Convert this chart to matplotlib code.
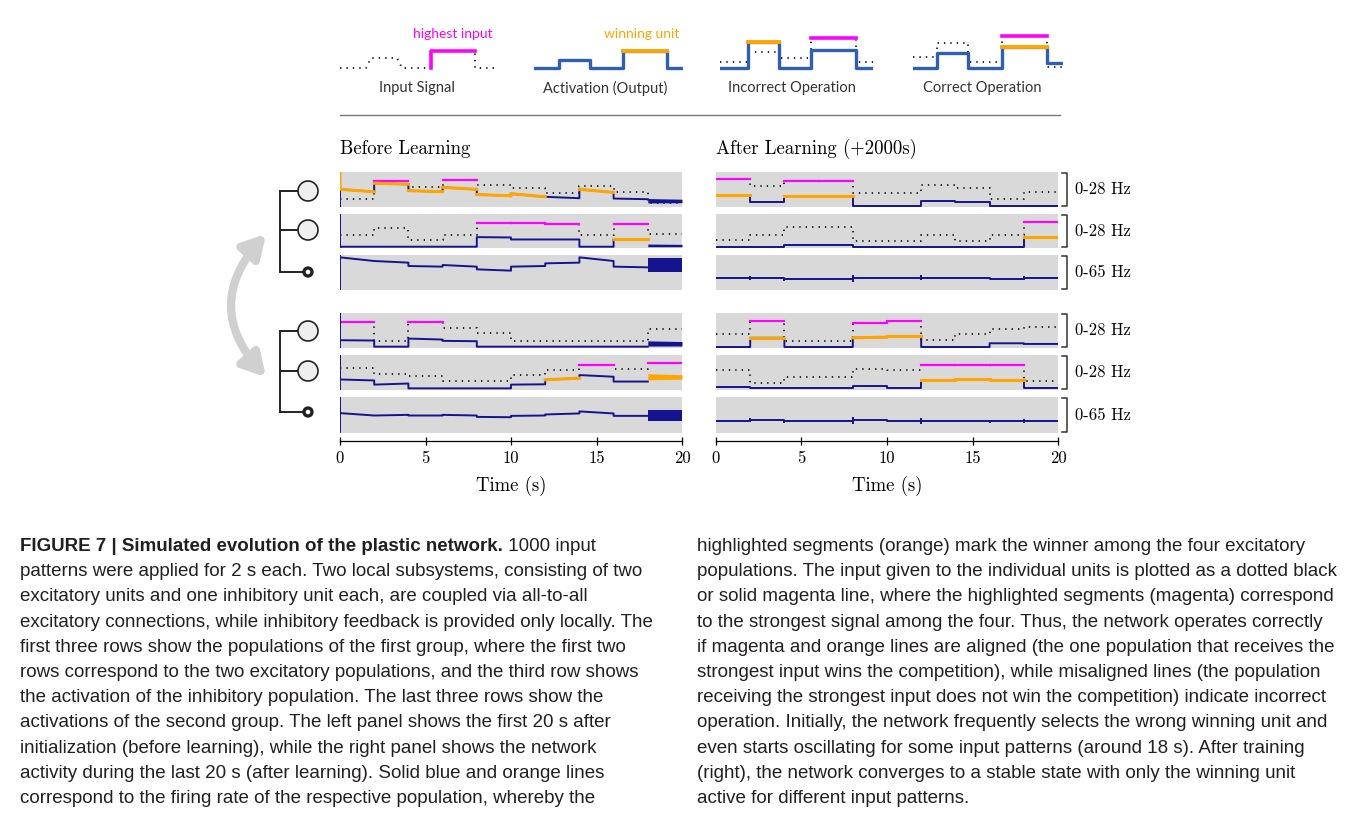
import numpy as np
import matplotlib
matplotlib.use("Agg")
import matplotlib.pyplot as plt
from matplotlib import font_manager
from matplotlib.patches import Circle, FancyArrowPatch, ArrowStyle

W, H = 1355, 814


def have_font(name):
    try:
        font_manager.findfont(font_manager.FontProperties(family=name),
                              fallback_to_default=False)
        return True
    except ValueError:
        return False


SERIF = ['cmr10', 'DejaVu Serif']
SANS = 'Lato'
CAPTION = 'Liberation Sans Narrow' if have_font('Liberation Sans Narrow') else 'Liberation Sans'

NAVY = '#14148f'
ORANGE = '#ffa500'
MAGENTA = '#ff00ff'
DOTS = '#222222'
PANEL_BG = '#d9d9d9'

# ---- data: 10 input patterns of 2 s each, rates in Hz ----
edges = np.arange(0, 22, 2)

# before learning: inputs of the four excitatory units (rows 1, 2, 4, 5)
pre_input = [
    [6.5, 22.9, 17.0, 23.3, 19.2, 16.7, 11.8, 18.6, 13.0, 3.0],
    [10.9, 18.0, 6.8, 10.9, 22.6, 22.3, 22.0, 10.9, 21.7, 12.7],
    [22.6, 5.6, 22.6, 17.7, 13.0, 5.6, 5.6, 5.6, 5.6, 16.7],
    [18.9, 13.3, 11.5, 7.4, 7.4, 13.0, 17.7, 22.3, 18.0, 23.9],
]
# firing rate at start / end of each pattern (nan = oscillating)
pre_rate_start = [
    [15.2, 20.8, 14.0, 17.0, 10.5, 11.2, 8.4, 15.2, 6.8, np.nan],
    [0.3, 0.3, 0.3, 0.3, 9.3, 7.1, 7.1, 0.3, 7.4, np.nan],
    [6.2, 0.3, 7.7, 5.6, 0.3, 0.3, 0.3, 0.3, 0.3, np.nan],
    [8.7, 4.0, 0.6, 0.6, 0.6, 4.0, 8.4, 12.7, 6.8, np.nan],
]
pre_rate_end = [
    [13.0, 19.8, 13.0, 15.2, 9.3, 8.4, 7.1, 12.4, 6.2, np.nan],
    [0.3, 0.3, 0.3, 0.3, 9.0, 7.1, 7.1, 0.3, 7.4, np.nan],
    [5.9, 0.3, 6.8, 5.3, 0.3, 0.3, 0.3, 0.3, 0.3, np.nan],
    [7.8, 5.0, 0.6, 0.6, 0.6, 4.3, 9.9, 11.2, 6.8, np.nan],
]
pre_onset = [30.0, 30.0, 30.0, 30.0]
# oscillation envelope 18-20 s: (low, high) at 18 s and at 20 s
pre_osc_lo = [[2.8, 3.0], [0.3, 0.3], [0.9, 0.9], [8.4, 9.0]]
pre_osc_hi = [[6.8, 6.2], [2.8, 2.5], [5.6, 5.0], [14.0, 13.0]]

# before learning: inhibitory units (rows 3, 6)
pre_inh_start = [
    [63.3, 56.0, 46.0, 48.0, 39.3, 44.7, 51.3, 63.3, 44.7, np.nan],
    [36.7, 32.0, 32.0, 33.3, 29.3, 31.3, 34.0, 40.0, 31.3, np.nan],
]
pre_inh_end = [
    [56.0, 52.7, 44.7, 44.7, 36.7, 46.0, 52.7, 56.0, 43.3, np.nan],
    [32.0, 33.3, 32.0, 32.0, 28.7, 32.0, 36.0, 36.0, 31.3, np.nan],
]
pre_inh_onset = [66.0, 66.0]
pre_inh_osc_lo = [33.3, 21.3]
pre_inh_osc_hi = [61.3, 43.3]

# after learning (+2000 s)
post_input = [
    [24.8, 18.3, 22.9, 22.9, 11.8, 11.8, 18.9, 16.4, 6.2, 12.4],
    [6.5, 11.5, 18.9, 18.9, 5.6, 5.6, 11.2, 5.6, 11.2, 23.3],
    [11.8, 23.3, 5.6, 5.6, 22.3, 23.3, 6.5, 11.8, 16.4, 18.6],
    [17.4, 5.3, 11.2, 11.2, 18.3, 17.4, 21.7, 21.7, 21.7, 7.1],
]
post_rate_start = [
    [10.2, 3.4, 9.0, 9.0, 0.3, 0.3, 5.0, 3.4, 0.3, 0.3],
    [0.3, 0.3, 2.2, 2.2, 0.3, 0.3, 0.3, 0.3, 0.3, 9.3],
    [0.0, 8.4, 0.0, 0.0, 8.4, 9.6, 0.0, 0.0, 3.4, 2.8],
    [2.2, 0.6, 0.6, 0.6, 2.8, 1.2, 8.4, 9.0, 8.4, 0.6],
]
post_rate_end = [
    [10.2, 3.4, 9.0, 9.0, 0.3, 0.3, 5.0, 3.4, 0.3, 0.3],
    [0.3, 0.3, 2.2, 2.2, 0.3, 0.3, 0.3, 0.3, 0.3, 9.3],
    [0.0, 8.4, 0.0, 0.0, 9.0, 9.6, 0.0, 0.0, 3.4, 2.8],
    [2.2, 0.6, 0.6, 0.6, 2.8, 1.2, 8.4, 9.0, 8.4, 0.6],
]
post_inh = [
    [21.3, 22.7, 20.0, 20.0, 21.3, 21.3, 22.7, 21.3, 20.6, 22.0],
    [22.0, 23.3, 20.6, 20.6, 22.7, 22.0, 21.3, 21.3, 20.6, 22.0],
]
# transient spikes of the inhibitory rate at the switches t = 2..18 s
post_inh_blip = [2.0, 2.0, 0.0, 5.0, 0.0, 3.5, 0.0, 1.2, 2.0]

row_labels = ['0-28 Hz', '0-28 Hz', '0-65 Hz', '0-28 Hz', '0-28 Hz', '0-65 Hz']
time_ticks = [0, 5, 10, 15, 20]

# legend sketches (x in px from the sketch's left edge, y in arbitrary level units)
leg_input_x = [0, 26, 31, 57, 62, 91, 91, 135, 135, 154]
leg_input_y = [4, 4, 14, 14, 4, 4, 21, 21, 4, 4]
leg_act_x = [0, 25, 25, 56, 56, 89, 89, 133, 133, 149]
leg_act_y = [4, 4, 12, 12, 4, 4, 21, 21, 4, 4]
leg_bad_x = [0, 28, 28, 59, 59, 91, 91, 136, 136, 153]
leg_bad_rate = [4, 4, 30, 30, 4, 4, 22, 22, 4, 4]
leg_bad_input = [10, 10, 20, 20, 14, 14, 34, 34, 10, 10]
leg_good_x = [0, 24, 24, 55, 55, 89, 89, 134, 134, 150]
leg_good_rate = [4, 4, 19, 19, 4, 4, 25, 25, 9, 9]
leg_good_input = [15, 15, 29, 29, 10, 10, 36, 36, 5, 5]

fig = plt.figure(figsize=(W / 100, H / 100), dpi=100)

# full-figure overlay in pixel units for text, diagram and arrow
ov = fig.add_axes([0, 0, 1, 1])
ov.set_xlim(0, W)
ov.set_ylim(H, 0)
ov.axis('off')


def px_axes(x0, y0, x1, y1):
    return fig.add_axes([x0 / W, 1 - y1 / H, (x1 - x0) / W, (y1 - y0) / H])


def bare(ax):
    ax.set_xticks([])
    ax.set_yticks([])
    for s in ax.spines.values():
        s.set_visible(False)


rows_y = [(172, 207), (214, 248), (255, 290), (313, 348), (355, 390), (397, 433)]
panels_x = [(340, 682), (716, 1058)]
exc_rows = [0, 1, 3, 4]
inh_rows = [2, 5]
step_t = np.repeat(edges, 2)[1:-1]


def seg_mid(r0, r1, lo, hi):
    m = (np.array(r0) + np.array(r1)) / 2
    if lo is not None:
        m[-1] = (lo[0] + hi[0] + lo[1] + hi[1]) / 4
    return m


def draw_panel(px, inputs, r0s, r1s, onsets, osc_lo, osc_hi, inh0, inh1,
               inh_onset, inh_lo, inh_hi, blips):
    mids = np.array([seg_mid(r0s[i], r1s[i],
                             osc_lo[i] if osc_lo else None,
                             osc_hi[i] if osc_hi else None) for i in range(4)])
    winner = np.argmax(mids, axis=0)
    strongest = np.argmax(np.array(inputs), axis=0)

    for i, row in enumerate(exc_rows):
        ax = px_axes(px[0], rows_y[row][0], px[1], rows_y[row][1])
        ax.set_facecolor(PANEL_BG)
        ax.set_xlim(0, 20)
        ax.set_ylim(-0.9, 31)
        bare(ax)
        inp = np.array(inputs[i])
        ax.plot(step_t, np.repeat(inp, 2), color=DOTS, lw=1.4,
                ls=(0, (0.7, 2.6)), zorder=2)
        for k in np.where(strongest == i)[0]:
            ax.plot(edges[k:k + 2], [inp[k], inp[k]], color=MAGENTA, lw=1.6, zorder=3)

        r0, r1 = np.array(r0s[i]), np.array(r1s[i])
        xs = list(step_t)
        ys = list(np.column_stack([r0, r1]).ravel())
        if onsets:
            xs = [0, 0] + xs
            ys = [0, onsets[i]] + ys
        ax.plot(xs, ys, color=NAVY, lw=1.4, zorder=4)
        for k in np.where(winner == i)[0]:
            if np.isnan(r0[k]):
                continue
            sx, sy = [edges[k], edges[k + 1]], [r0[k], r1[k]]
            if k == 0 and onsets:
                sx, sy = [0] + sx, [onsets[i]] + sy
            ax.plot(sx, sy, color=ORANGE, lw=2.2, zorder=5)
        if osc_lo:
            c = ORANGE if winner[-1] == i else NAVY
            ax.fill_between(edges[-2:], osc_lo[i], osc_hi[i], color=c, lw=0, zorder=5)

    for j, row in enumerate(inh_rows):
        ax = px_axes(px[0], rows_y[row][0], px[1], rows_y[row][1])
        ax.set_facecolor(PANEL_BG)
        ax.set_xlim(0, 20)
        ax.set_ylim(-2, 68)
        bare(ax)
        a0, a1 = np.array(inh0[j]), np.array(inh1[j])
        xs, ys = [], []
        if inh_onset:
            xs, ys = [0, 0], [0, inh_onset[j]]
        for k in range(10):
            if k > 0 and blips and blips[k - 1] > 0:
                xs += [edges[k], edges[k]]
                ys += [a0[k] + blips[k - 1], a0[k] - blips[k - 1]]
            xs += [edges[k], edges[k + 1]]
            ys += [a0[k], a1[k]]
        ax.plot(xs, ys, color=NAVY, lw=1.4, zorder=4)
        if inh_lo:
            ax.fill_between(edges[-2:], inh_lo[j], inh_hi[j], color=NAVY, lw=0)

    # time axis
    tax = px_axes(px[0], 430, px[1], 441)
    tax.patch.set_alpha(0)
    tax.set_xlim(0, 20)
    tax.set_yticks([])
    for s in ['left', 'right', 'top']:
        tax.spines[s].set_visible(False)
    tax.spines['bottom'].set_linewidth(0.9)
    tax.set_xticks(time_ticks)
    tax.set_xticklabels([str(t) for t in time_ticks], family=SERIF, fontsize=12)
    tax.tick_params(axis='x', direction='inout', length=6, width=0.9, pad=4)
    ov.text((px[0] + px[1]) / 2, 486, 'Time (s)', family=SERIF, fontsize=13.5,
            ha='center', va='center')


draw_panel(panels_x[0], pre_input, pre_rate_start, pre_rate_end, pre_onset,
           pre_osc_lo, pre_osc_hi, pre_inh_start, pre_inh_end, pre_inh_onset,
           pre_inh_osc_lo, pre_inh_osc_hi, None)
draw_panel(panels_x[1], post_input, post_rate_start, post_rate_end, None,
           None, None, post_inh, post_inh, None, None, None, post_inh_blip)

ov.text(340, 149, 'Before Learning', family=SERIF, fontsize=13.5, ha='left', va='center')
ov.text(716, 149, 'After Learning (+2000s)', family=SERIF, fontsize=13.5,
        ha='left', va='center')

# range brackets on the right
for (y0, y1), lab in zip(rows_y, row_labels):
    ov.plot([1062, 1067, 1067, 1062], [y0 + 1, y0 + 1, y1 - 1, y1 - 1],
            color='#333333', lw=1.1)
    ov.text(1075, (y0 + y1) / 2, lab, family=SERIF, fontsize=12, ha='left', va='center')

# network sketch: two groups of two excitatory + one inhibitory unit
for cy in [(191, 230, 272), (331, 371, 412)]:
    ov.plot([280, 280], [cy[0], cy[2]], color='#222222', lw=1.4, zorder=2)
    for k, y in enumerate(cy):
        r = 10 if k < 2 else 4
        ov.plot([280, 308 - r], [y, y], color='#222222', lw=1.4, zorder=2)
        ov.add_patch(Circle((308, y), r, facecolor='#efefef' if k < 2 else 'white',
                            edgecolor='#222222', lw=1.2 if k < 2 else 2.4, zorder=3))

arrow = FancyArrowPatch((266, 234), (266, 377), connectionstyle='arc3,rad=0.45',
                        arrowstyle=ArrowStyle('<|-|>', head_length=0.6, head_width=0.34),
                        mutation_scale=22, lw=6, color='#d0d0d0', shrinkA=0, shrinkB=0,
                        zorder=1)
ov.add_patch(arrow)

# legend sketches along the top
def legend_axes(x0, width):
    ax = px_axes(x0, 32, x0 + width, 72)
    ax.set_xlim(0, width)
    ax.set_ylim(0, 40)
    ax.axis('off')
    return ax


BLUE_LEG = '#2e5fb4'
la = legend_axes(340, 154)
la.plot(leg_input_x, leg_input_y, color=DOTS, lw=1.4, ls=(0, (0.7, 2.6)))
la.plot(leg_input_x[5:8], leg_input_y[5:8], color=MAGENTA, lw=2.6)
lb = legend_axes(534, 149)
lb.plot(leg_act_x, leg_act_y, color=BLUE_LEG, lw=2.4)
lb.plot(leg_act_x[6:8], leg_act_y[6:8], color=ORANGE, lw=2.8)
lc = legend_axes(720, 153)
lc.plot(leg_bad_x, leg_bad_input, color=DOTS, lw=1.4, ls=(0, (0.7, 2.6)))
lc.plot(leg_bad_x[6:8], leg_bad_input[6:8], color=MAGENTA, lw=2.6)
lc.plot(leg_bad_x, leg_bad_rate, color=BLUE_LEG, lw=2.4)
lc.plot(leg_bad_x[2:4], leg_bad_rate[2:4], color=ORANGE, lw=2.8)
ld = legend_axes(913, 150)
ld.plot(leg_good_x, leg_good_input, color=DOTS, lw=1.4, ls=(0, (0.7, 2.6)))
ld.plot(leg_good_x[6:8], leg_good_input[6:8], color=MAGENTA, lw=2.6)
ld.plot(leg_good_x, leg_good_rate, color=BLUE_LEG, lw=2.4)
ld.plot(leg_good_x[6:8], leg_good_rate[6:8], color=ORANGE, lw=2.8)

ov.text(453, 34, 'highest input', family=SANS, fontsize=10, color=MAGENTA,
        ha='center', va='center')
ov.text(642, 34, 'winning unit', family=SANS, fontsize=10, color=ORANGE,
        ha='center', va='center')
for x, lab in [(417, 'Input Signal'), (605, 'Activation (Output)'),
               (792, 'Incorrect Operation'), (982, 'Correct Operation')]:
    ov.text(x, 88, lab, family=SANS, fontsize=10.5, color='#333333',
            ha='center', va='center')
ov.plot([340, 1060], [115, 115], color='#777777', lw=1)

# caption
cap_bold = 'FIGURE 7 | Simulated evolution of the plastic network.'
cap_left = [
    ' 1000 input',
    'patterns were applied for 2 s each. Two local subsystems, consisting of two',
    'excitatory units and one inhibitory unit each, are coupled via all-to-all',
    'excitatory connections, while inhibitory feedback is provided only locally. The',
    'first three rows show the populations of the first group, where the first two',
    'rows correspond to the two excitatory populations, and the third row shows',
    'the activation of the inhibitory population. The last three rows show the',
    'activations of the second group. The left panel shows the first 20 s after',
    'initialization (before learning), while the right panel shows the network',
    'activity during the last 20 s (after learning). Solid blue and orange lines',
    'correspond to the firing rate of the respective population, whereby the',
]
cap_right = [
    'highlighted segments (orange) mark the winner among the four excitatory',
    'populations. The input given to the individual units is plotted as a dotted black',
    'or solid magenta line, where the highlighted segments (magenta) correspond',
    'to the strongest signal among the four. Thus, the network operates correctly',
    'if magenta and orange lines are aligned (the one population that receives the',
    'strongest input wins the competition), while misaligned lines (the population',
    'receiving the strongest input does not win the competition) indicate incorrect',
    'operation. Initially, the network frequently selects the wrong winning unit and',
    'even starts oscillating for some input patterns (around 18 s). After training',
    '(right), the network converges to a stable state with only the winning unit',
    'active for different input patterns.',
]

renderer = fig.canvas.get_renderer()
probe = ov.text(0, 0, cap_left[3], family=CAPTION, fontsize=10)
cap_size = 10 * 638 / probe.get_window_extent(renderer).width
probe.remove()

TXT = '#231f20'
base = 551
step = 25.2
bold = ov.text(20, base, cap_bold, family=CAPTION, fontsize=cap_size,
               fontweight='bold', color=TXT, va='baseline')
bw = bold.get_window_extent(renderer).width
ov.text(20 + bw, base, cap_left[0], family=CAPTION, fontsize=cap_size,
        color=TXT, va='baseline')
for i, line in enumerate(cap_left[1:], start=1):
    ov.text(20, base + i * step, line, family=CAPTION, fontsize=cap_size,
            color=TXT, va='baseline')
for i, line in enumerate(cap_right):
    ov.text(697, base + i * step, line, family=CAPTION, fontsize=cap_size,
            color=TXT, va='baseline')

fig.savefig('out.png', dpi=100)
